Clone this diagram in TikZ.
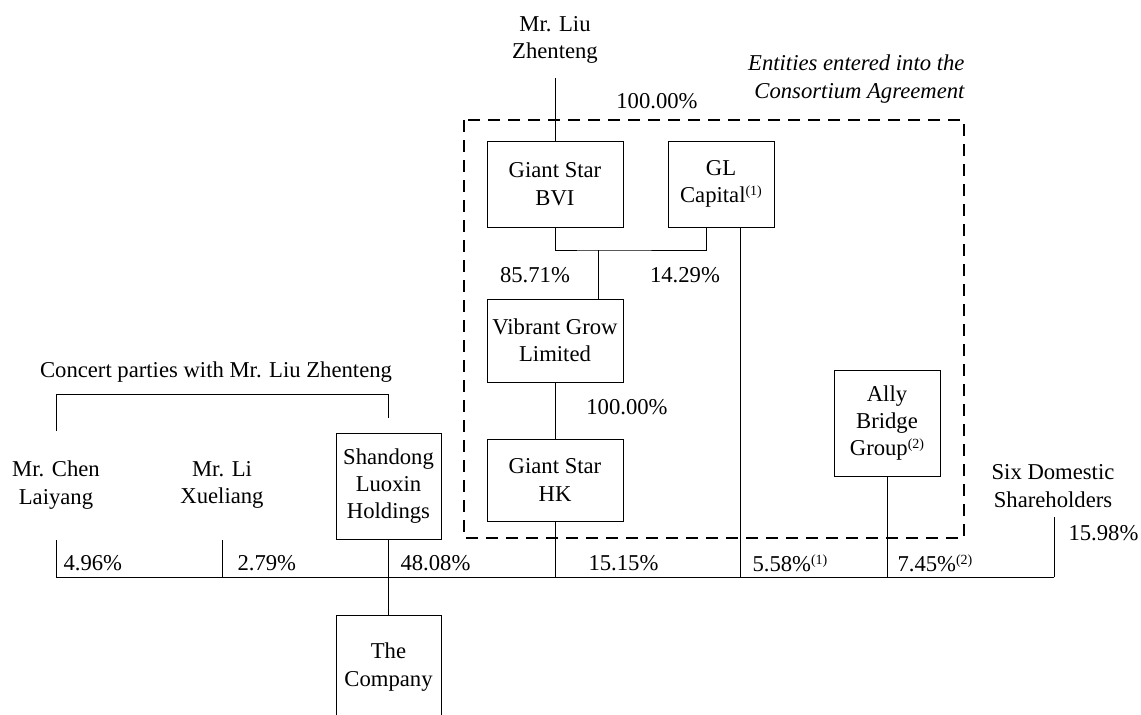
\documentclass[tikz,border=0pt]{standalone}
\usepackage{fontspec}
\setmainfont{Liberation Serif}
\newcommand\fnref[1]{\raisebox{0.7ex}{\fontsize{10.5}{11}\selectfont(#1)}}

\tikzset{every picture/.style={line width=0.75pt}}
\tikzset{
  entity/.style={draw, align=center, inner sep=0pt, font=\fontsize{17}{20.5}\selectfont},
  holder/.style={align=center, inner sep=0pt, font=\fontsize{17}{20.5}\selectfont},
  share/.style={anchor=west, inner sep=0pt, font=\fontsize{17}{20.5}\selectfont},
  consort/.style={dash pattern=on 9pt off 6pt, line width=1.1pt}
}

\begin{document}
\begin{tikzpicture}[x=0.75pt,y=0.75pt,yscale=-1,xscale=1]
\useasboundingbox (0,0) rectangle (1141,714);
\clip (0,0) rectangle (1141,714);

%Shape: Dashed Rectangle [consortium]
\draw [consort] (464,120) rectangle (964,538);

%Shape: Rectangle [entities]
\node [entity, minimum width=102pt, minimum height=64.5pt] (bvi) at (555,184) {Giant Star\\BVI};
\node [entity, minimum width=79.5pt, minimum height=64.5pt] (gl) at (721,184) {GL\\Capital\fnref{1}};
\node [entity, minimum width=102pt, minimum height=62.25pt] (vib) at (555,340.5) {Vibrant Grow\\Limited};
\node [entity, minimum width=102pt, minimum height=61.5pt] (hk) at (555,480) {Giant Star\\HK};
\node [entity, minimum width=79.5pt, minimum height=79.5pt] (ally) at (887,423) {Ally\\Bridge\\Group\fnref{2}};
\node [entity, minimum width=78.75pt, minimum height=79.5pt] (shan) at (388.5,486) {Shandong\\Luoxin\\Holdings};
\node [entity, minimum width=78.75pt, minimum height=78pt] (comp) at (388.5,667) {The\\Company};

% Text Node [holders]
\node [holder] (liu) at (555,40) {Mr. Liu\\Zhenteng};
\node [holder, align=right, anchor=east, font=\fontsize{17}{20.5}\selectfont\itshape] (entnote) at (965,79) {Entities entered into the\\Consortium Agreement};
\node [holder] (concert) at (216,372) {Concert parties with Mr. Liu Zhenteng};
\node [holder] (chen) at (56,485) {Mr. Chen\\Laiyang};
\node [holder] (li) at (222,485) {Mr. Li\\Xueliang};
\node [holder] (six) at (1053,486) {Six Domestic\\Shareholders};

% Text Node [percentages]
\node [holder] (pbvi) at (657,101) {100.00\%};
\node [holder] (pbvig) at (535,275) {85.71\%};
\node [holder] (pglg) at (685,275) {14.29\%};
\node [holder] (phk) at (627,407) {100.00\%};
\node [share] (pchen) at (63,563) {4.96\%};
\node [share] (pli) at (237,563) {2.79\%};
\node [share] (pshan) at (400,563) {48.08\%};
\node [share] (phkc) at (588,563) {15.15\%};
\node [share] (pgl) at (752,563) {5.58\%\fnref{1}};
\node [share] (pally) at (897,563) {7.45\%\fnref{2}};
\node [share] (psix) at (1068,533) {15.98\%};

% free ends
\coordinate (liuend) at (555,78);
\coordinate (jn) at (598,250);
\coordinate (chenend) at (56,540);
\coordinate (liend) at (222,540);
\coordinate (sixend) at (1054,517);
\coordinate (busl) at (56,577);
\coordinate (busr) at (1054,577);
\coordinate (brl) at (56,431);
\coordinate (brr) at (388.5,418);

%Straight Lines [ownership]
\draw (liuend) -- (bvi.north);
\draw (bvi.south) |- (jn) -| ([xshift=-11.25pt]gl.south);
\draw (jn) -- (jn |- vib.north);
\draw (vib) -- (hk);
\draw (busl) -- (busr);
\draw (chenend) -- (chenend |- busl);
\draw (liend) -- (liend |- busl);
\draw (shan) -- (comp);
\draw (hk.south) -- (hk.south |- busl);
\draw ([xshift=14.25pt]gl.south) -- ([xshift=14.25pt]gl.south |- busl);
\draw (ally.south) -- (ally.south |- busl);
\draw (sixend) -- (busr);
%Straight Lines [concert bracket]
\draw (brl) -- ++(0,-37) -| (brr);

\end{tikzpicture}
\end{document}
